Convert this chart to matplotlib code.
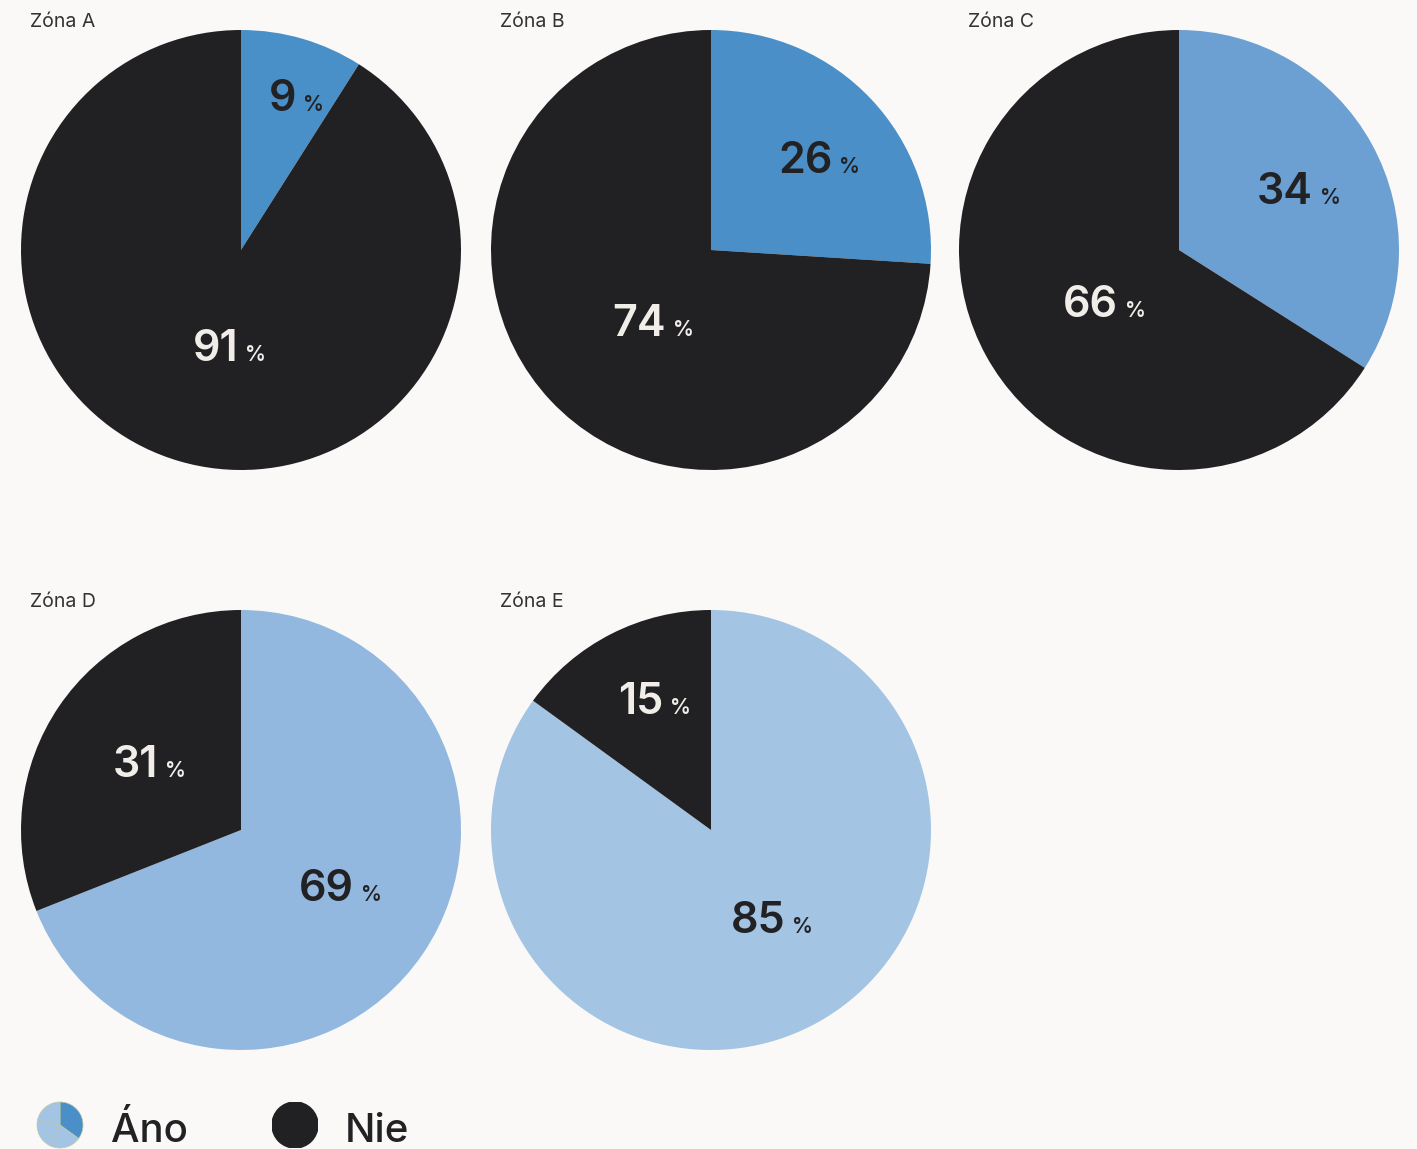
import matplotlib
matplotlib.use("Agg")
import matplotlib.pyplot as plt
import numpy as np

zones = ["Zóna A", "Zóna B", "Zóna C", "Zóna D", "Zóna E"]
ano = [9, 26, 34, 69, 85]
nie = [91, 74, 66, 31, 15]
ano_colors = ["#4a90c8", "#4a8fc7", "#6c9fd2", "#92b8df", "#a3c4e3"]
nie_color = "#212124"
legend_labels = ["Áno", "Nie"]

BG = "#faf9f7"
W, H = 1417, 1149
fig = plt.figure(figsize=(W / 100, H / 100), dpi=100, facecolor=BG)

centers = [(241, 250), (711, 250), (1179, 250), (241, 830), (711, 830)]
R = 220

def px_axes(cx, cy, r):
    return fig.add_axes([(cx - r) / W, 1 - (cy + r) / H, 2 * r / W, 2 * r / H])

for i, z in enumerate(zones):
    cx, cy = centers[i]
    ax = px_axes(cx, cy, R)
    ax.set_facecolor(BG)
    vals = [ano[i], nie[i]]
    cols = [ano_colors[i], nie_color]
    ax.pie(vals, colors=cols, startangle=90, counterclock=False,
           radius=1, wedgeprops=dict(linewidth=0))
    ax.set_xlim(-1, 1)
    ax.set_ylim(-1, 1)
    ax.set_aspect("equal")
    ax.axis("off")
    total = sum(vals)
    start = 0.0
    for v, c in zip(vals, cols):
        frac = v / total
        mid = (start + frac / 2) * 2 * np.pi - np.deg2rad(1.2)
        rr = 0.45 + 0.37 * (1 - frac) ** 3
        x = rr * np.sin(mid)
        y = rr * np.cos(mid) - 0.018
        tc = "#f1ede8" if c == nie_color else "#222225"
        t = ax.text(x, y, f"{v}", ha="center", va="center", fontsize=31,
                    fontweight="semibold", family="Inter", color=tc)
        ax.annotate("%", xy=(1, 0.12), xycoords=t, xytext=(5, 0),
                    textcoords="offset points", ha="left", va="bottom",
                    fontsize=15, fontweight="semibold", family="Inter", color=tc)
        start += frac
    fig.text((cx - 211) / W, 1 - (cy - 228) / H, z, ha="left", va="center",
             fontsize=14, family="Inter", color="#333333")

# legend
lax = px_axes(60, 1125, 23)
lax.pie([35, 22, 22, 21], colors=["#4a8fc7", "#a3c4e3", "#a3c4e3", "#a3c4e3"],
        startangle=90, counterclock=False, radius=1,
        wedgeprops=dict(linewidth=0.5, edgecolor="#b9c9a8"))
lax.set_xlim(-1, 1); lax.set_ylim(-1, 1); lax.axis("off")
fig.text(111 / W, 1 - 1131 / H, legend_labels[0], ha="left", va="center",
         fontsize=29, fontweight="medium", family="Inter", color="#222225")
nax = px_axes(295, 1125, 23)
nax.add_patch(plt.Circle((0, 0), 1, color=nie_color))
nax.set_xlim(-1, 1); nax.set_ylim(-1, 1); nax.set_aspect("equal"); nax.axis("off")
fig.text(345 / W, 1 - 1131 / H, legend_labels[1], ha="left", va="center",
         fontsize=29, fontweight="medium", family="Inter", color="#222225")

fig.savefig("out.png", dpi=100, facecolor=BG)
